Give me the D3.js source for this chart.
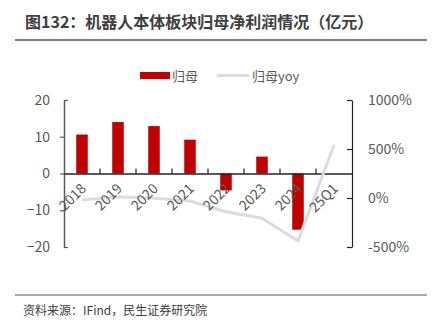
<!DOCTYPE html>
<html>
<head>
<meta charset="utf-8">
<script src="https://cdn.jsdelivr.net/npm/d3@7/dist/d3.min.js"></script>
<style>
  body { margin: 0; background: #fff; }
  svg { display: block; font-family: "Noto Sans CJK SC", "Noto Sans", sans-serif; }
</style>
</head>
<body>
<svg id="chart" width="440" height="332"></svg>
<script>
// Net profit attributable to parent (亿元) and its YoY growth (%)
const categories = ["2018", "2019", "2020", "2021", "2022", "2023", "2024", "25Q1"];
const profit = [10.6, 14.0, 12.9, 9.2, -4.6, 4.6, -15.3, null];
const yoy = [-20, 13, -3, -30, -140, -207, -439, 541];
const leftTicks = [20, 10, 0, -10, -20];
const rightTicks = [1000, 500, 0, -500];

const svg = d3.select("#chart");
const plot = { left: 64, right: 352, top: 100, bottom: 247 };

// title and rules
svg.append("text").attr("x", 25).attr("y", 28)
  .attr("font-size", 16).attr("font-weight", "bold").attr("fill", "#404040")
  .text("图132：机器人本体板块归母净利润情况（亿元）");
svg.append("line").attr("x1", 15).attr("x2", 427).attr("y1", 40).attr("y2", 40)
  .attr("stroke", "#555").attr("stroke-width", 1.5);
svg.append("line").attr("x1", 15).attr("x2", 427).attr("y1", 295).attr("y2", 295)
  .attr("stroke", "#555").attr("stroke-width", 1);
svg.append("text").attr("x", 23).attr("y", 315)
  .attr("font-size", 12).attr("fill", "#404040")
  .text("资料来源：IFind，民生证券研究院");

// scales
const x = d3.scaleBand().domain(categories).range([plot.left, plot.right]);
const yL = d3.scaleLinear().domain([-20, 20]).range([plot.bottom, plot.top]);
const yR = d3.scaleLinear().domain([-500, 1000]).range([plot.bottom, plot.top]);

// bars
const barW = x.bandwidth() * 0.32;
svg.append("g").selectAll("rect")
  .data(categories.map((c, i) => ({ c, v: profit[i] })).filter(d => d.v != null))
  .join("rect")
  .attr("x", d => x(d.c) + x.bandwidth() / 2 - barW / 2)
  .attr("width", barW)
  .attr("y", d => yL(Math.max(0, d.v)))
  .attr("height", d => Math.abs(yL(d.v) - yL(0)))
  .attr("fill", "#c00000");

// left axis
const gL = svg.append("g").attr("transform", `translate(${plot.left},0)`)
  .call(d3.axisLeft(yL).tickValues(leftTicks).tickSize(4).tickSizeOuter(0).tickPadding(10));
gL.select(".domain").attr("stroke", "#595959").attr("stroke-width", 1.5);
gL.selectAll(".tick line").attr("stroke", "#595959").attr("stroke-width", 1.2)
  .attr("x2", d => (d === 20 || d === -20) ? 4 : -4);
gL.selectAll(".tick text").attr("font-size", 14).attr("fill", "#595959")
  .attr("font-family", "'Noto Sans CJK SC', sans-serif");

// right axis
const gR = svg.append("g").attr("transform", `translate(${plot.right},0)`)
  .call(d3.axisRight(yR).tickValues(rightTicks).tickSize(-5).tickSizeOuter(0).tickPadding(16)
    .tickFormat(d => d + "%"));
gR.select(".domain").attr("stroke", "#222").attr("stroke-width", 1.2);
gR.selectAll(".tick line").attr("stroke", "#222").attr("stroke-width", 1.2);
gR.selectAll(".tick text").attr("font-size", 14).attr("fill", "#595959")
  .attr("font-family", "'Noto Sans CJK SC', sans-serif");

// zero line with category boundary ticks
const gX = svg.append("g").attr("transform", `translate(0,${yL(0)})`)
  .call(d3.axisBottom(x).tickSize(0).tickSizeOuter(0));
gX.select(".domain").attr("stroke", "#222").attr("stroke-width", 1.5);
gX.selectAll(".tick text").remove();
gX.selectAll(".bound").data(categories.slice(1)).join("line")
  .attr("class", "bound")
  .attr("x1", d => x(d)).attr("x2", d => x(d))
  .attr("y1", 0).attr("y2", -5)
  .attr("stroke", "#222").attr("stroke-width", 1.2);

// yoy line
const line = d3.line()
  .x((d, i) => x(categories[i]) + x.bandwidth() / 2)
  .y(d => yR(d));
svg.append("path").datum(yoy).attr("d", line)
  .attr("fill", "none").attr("stroke", "#dcdcdc").attr("stroke-width", 3)
  .attr("stroke-linejoin", "round");

// category labels, rotated
svg.append("g").selectAll("text").data(categories).join("text")
  .attr("transform", d => `translate(${x(d) + x.bandwidth() / 2 + 5},${yL(0) + 16}) rotate(-45)`)
  .attr("text-anchor", "end")
  .attr("font-size", 14).attr("fill", "#595959")
  .text(d => d);

// legend
const lg = svg.append("g");
lg.append("rect").attr("x", 140).attr("y", 72).attr("width", 30).attr("height", 7).attr("fill", "#c00000");
lg.append("text").attr("x", 172).attr("y", 81).attr("font-size", 13).attr("fill", "#595959").text("归母");
lg.append("line").attr("x1", 217).attr("x2", 249).attr("y1", 75.5).attr("y2", 75.5)
  .attr("stroke", "#dcdcdc").attr("stroke-width", 3);
lg.append("text").attr("x", 252).attr("y", 81).attr("font-size", 13).attr("fill", "#595959").text("归母yoy");
</script>
</body>
</html>
